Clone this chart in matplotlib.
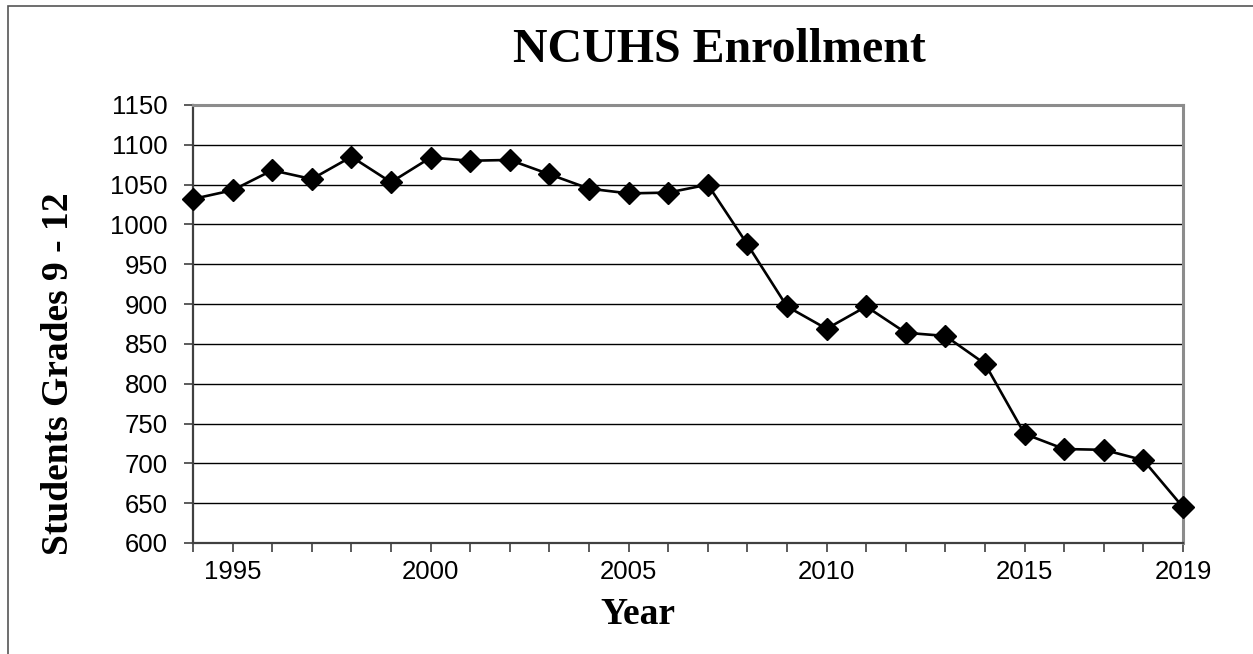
import matplotlib
matplotlib.use("Agg")
import matplotlib.pyplot as plt
from matplotlib.patches import Rectangle

years = list(range(1994, 2020))
students = [1032, 1043, 1068, 1057, 1085, 1053, 1084, 1080, 1081, 1063,
            1045, 1039, 1040, 1050, 975, 897, 869, 897, 864, 860,
            825, 737, 718, 717, 704, 645]
xtick_years = [1995, 2000, 2005, 2010, 2015, 2019]
yticks = list(range(600, 1151, 50))

serif = ['Liberation Serif', 'DejaVu Serif']
sans = ['Liberation Sans', 'DejaVu Sans']

fig = plt.figure(figsize=(12.53, 6.54), dpi=100)
W, H = 1253, 654

# outer chart frame (only top and left edges visible)
fig.patches.append(Rectangle((8 / W, -0.1), 1.2, 1 - 6 / H + 0.1,
                             transform=fig.transFigure, fill=False,
                             edgecolor='#555555', linewidth=1.2))

ax = fig.add_axes([193 / W, 1 - 543 / H, (1183 - 193) / W, (543 - 105) / H])

ax.plot(years, students, color='black', linewidth=1.9, marker='D',
        markersize=11.5, markerfacecolor='black', markeredgecolor='black',
        zorder=3, clip_on=False)

ax.set_xlim(1994, 2019)
ax.set_ylim(600, 1150)
ax.set_yticks(yticks)
ax.set_xticks(years)
ax.set_xticklabels([str(y) if y in xtick_years else '' for y in years])

ax.grid(axis='y', color='black', linewidth=1.0)
ax.set_axisbelow(True)

for side in ['top', 'right']:
    ax.spines[side].set_color('#8c8c8c')
    ax.spines[side].set_linewidth(2.2)
for side in ['left', 'bottom']:
    ax.spines[side].set_color('#404040')
    ax.spines[side].set_linewidth(1.6)

ax.tick_params(axis='both', direction='out', length=6.3, width=1.2,
               color='#404040', labelsize=18.5)
ax.tick_params(axis='y', pad=12)
ax.tick_params(axis='x', pad=6)
for lbl in ax.get_xticklabels() + ax.get_yticklabels():
    lbl.set_family(sans)

fig.text(719 / W, 1 - 50 / H, 'NCUHS Enrollment', ha='center', va='center',
         fontsize=34.5, fontweight='bold', family=serif)
fig.text(638 / W, 1 - 614 / H, 'Year', ha='center', va='center',
         fontsize=27, fontweight='bold', family=serif)
fig.text(59 / W, 1 - 374 / H, 'Students Grades 9 - 12', ha='center',
         va='center', rotation=90, fontsize=27, fontweight='bold',
         family=serif)

fig.savefig('out.png', dpi=100)
